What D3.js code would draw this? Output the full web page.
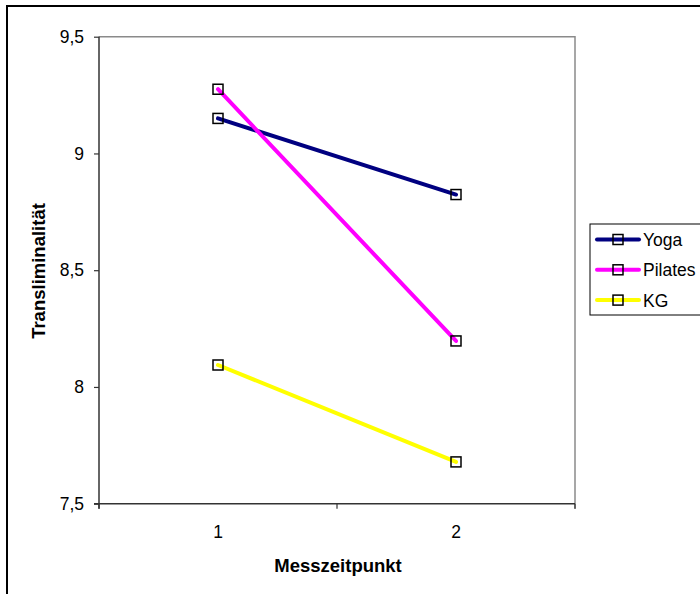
<!DOCTYPE html>
<html>
<head>
<meta charset="utf-8">
<script src="https://cdn.jsdelivr.net/npm/d3@7"></script>
<style>
  html, body { margin: 0; padding: 0; background: #fff; }
  svg { display: block; }
  text { font-family: "Liberation Sans", Arial, sans-serif; fill: #000; }
</style>
</head>
<body>
<svg id="chart" width="700" height="594"></svg>
<script>
// Messzeitpunkte (Kategorien der x-Achse)
const zeitpunkte = ["1", "2"];
// Mittelwerte je Gruppe
const yoga    = [9.15, 8.824];
const pilates = [9.275, 8.197];
const kg      = [8.094, 7.679];
const gruppen = ["Yoga", "Pilates", "KG"];
const farben  = ["#000080", "#FF00FF", "#FFFF00"];
const yTicks  = [7.5, 8, 8.5, 9, 9.5];

const serien = [yoga, pilates, kg].map((werte, i) => ({
  name: gruppen[i], farbe: farben[i],
  punkte: werte.map((v, j) => ({ x: zeitpunkte[j], y: v }))
}));

const svg = d3.select("#chart");
const plot = { left: 99, right: 575, top: 36.7, bottom: 503.7 };

const x = d3.scaleBand().domain(zeitpunkte).range([plot.left, plot.right]);
const y = d3.scaleLinear().domain([7.5, 9.5]).range([plot.bottom, plot.top]);
const fmt = d => String(d).replace(".", ",");

// Diagrammrahmen
svg.append("rect")
  .attr("x", 7).attr("y", 6).attr("width", 720).attr("height", 620)
  .attr("fill", "#fff").attr("stroke", "#000").attr("stroke-width", 2);

// Zeichenfläche: Rahmen oben und rechts grau
svg.append("path")
  .attr("d", `M${plot.left},${plot.top}H${plot.right}V${plot.bottom + 5}`)
  .attr("fill", "none").attr("stroke", "#8a8a8a").attr("stroke-width", 1.5);

// y-Achse
const yAxis = svg.append("g")
  .attr("transform", `translate(${plot.left},0)`)
  .call(d3.axisLeft(y).tickValues(yTicks).tickFormat(fmt).tickSize(5).tickPadding(10));
yAxis.select(".domain").attr("stroke", "#333").attr("stroke-width", 1.5)
  .attr("d", `M0,${plot.top}V${plot.bottom + 5}`);
yAxis.selectAll(".tick line").attr("stroke", "#333").attr("stroke-width", 1.2);
yAxis.selectAll(".tick text").attr("font-size", 17.5).attr("font-family", "Liberation Sans, Arial, sans-serif").attr("fill", "#000");

// x-Achse (Teilstriche zwischen den Kategorien)
const xAxis = svg.append("g")
  .attr("transform", `translate(0,${plot.bottom})`);
xAxis.append("path")
  .attr("d", `M${plot.left - 5},0H${plot.right}`)
  .attr("stroke", "#333").attr("stroke-width", 1.5).attr("fill", "none");
const grenzen = [plot.left, ...zeitpunkte.map(z => x(z) + x.bandwidth())];
xAxis.selectAll("line.grenze").data(grenzen).join("line")
  .attr("class", "grenze")
  .attr("x1", d => d).attr("x2", d => d).attr("y1", 0).attr("y2", 5)
  .attr("stroke", "#333").attr("stroke-width", 1.2);
xAxis.selectAll("text.kat").data(zeitpunkte).join("text")
  .attr("class", "kat")
  .attr("x", d => x(d) + x.bandwidth() / 2).attr("y", 34)
  .attr("text-anchor", "middle").attr("font-size", 17.5)
  .text(d => d);

// Achsentitel
svg.append("text")
  .attr("x", 338).attr("y", 572)
  .attr("text-anchor", "middle").attr("font-size", 18.5).attr("font-weight", "bold")
  .text("Messzeitpunkt");
svg.append("text")
  .attr("transform", `translate(45,271) rotate(-90)`)
  .attr("text-anchor", "middle").attr("font-size", 18.5).attr("font-weight", "bold")
  .text("Transliminalität");

// Linien und Marker
const linie = d3.line().x(d => x(d.x) + x.bandwidth() / 2).y(d => y(d.y));
const gS = svg.append("g");
serien.forEach(s => {
  gS.append("path").datum(s.punkte)
    .attr("d", linie).attr("fill", "none")
    .attr("stroke", s.farbe).attr("stroke-width", 4).attr("stroke-linecap", "round");
});
serien.forEach(s => {
  gS.selectAll(null).data(s.punkte).join("rect")
    .attr("x", d => x(d.x) + x.bandwidth() / 2 - 5)
    .attr("y", d => y(d.y) - 5)
    .attr("width", 10).attr("height", 10)
    .attr("fill", "none").attr("stroke", "#000").attr("stroke-width", 1.5);
});

// Legende
const leg = svg.append("g");
leg.append("rect")
  .attr("x", 590).attr("y", 224).attr("width", 140).attr("height", 91)
  .attr("fill", "#fff").attr("stroke", "#000").attr("stroke-width", 1);
const eintrag = leg.selectAll("g.eintrag").data(serien).join("g")
  .attr("class", "eintrag")
  .attr("transform", (d, i) => `translate(0,${239.5 + i * 30.3})`);
eintrag.append("line")
  .attr("x1", 597).attr("x2", 639).attr("y1", 0).attr("y2", 0)
  .attr("stroke", d => d.farbe).attr("stroke-width", 4).attr("stroke-linecap", "round");
eintrag.append("rect")
  .attr("x", 613).attr("y", -5).attr("width", 10).attr("height", 10)
  .attr("fill", "none").attr("stroke", "#000").attr("stroke-width", 1.5);
eintrag.append("text")
  .attr("x", 643).attr("y", 6.5).attr("font-size", 17.5)
  .text(d => d.name);
</script>
</body>
</html>
